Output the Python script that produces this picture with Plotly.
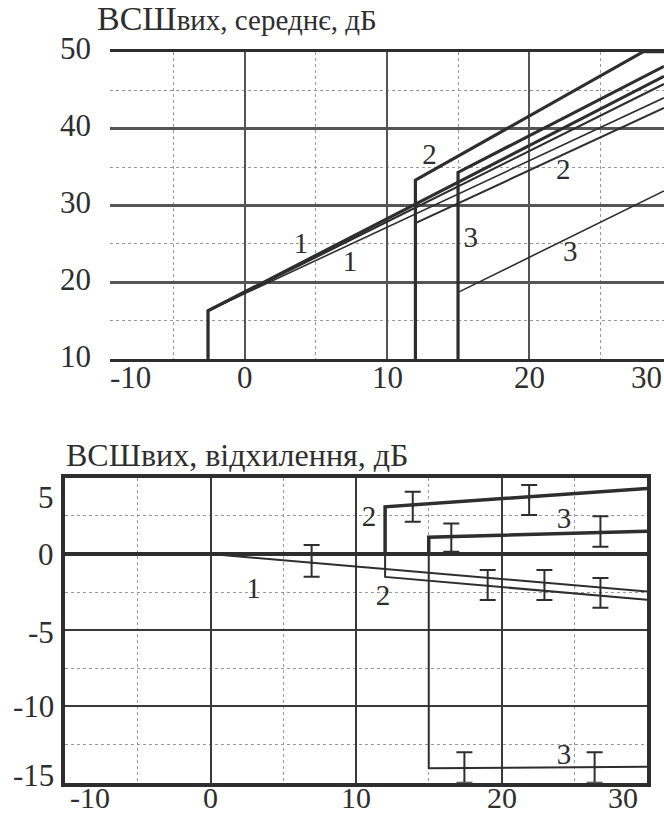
import plotly.graph_objects as go

FONT = "Liberation Serif"
INK = "#2e2e2e"
GRID = "#555555"
DOT = "#9a9a9a"

# ---------------- upper panel: mean output SNR, dB ----------------
c1_x = [-2.6, -2.6, 29.5]
c1a_y = [10, 16.3, 46.8]
c1b_y = [10, 16.3, 45.8]
c1c_y = [10, 16.3, 44.0]
c2a_x = [12, 12, 28.05, 29.5]
c2a_y = [10, 33.3, 50, 50]
c2b_x = [12, 29.5]
c2b_y = [27.7, 42.7]
c3a_x = [15, 15, 29.5]
c3a_y = [10, 34.3, 48.1]
c3b_x = [15, 29.5]
c3b_y = [18.7, 31.9]

top_lab_text = ["1", "1", "2", "2", "3", "3"]
top_lab_x = [3.95, 7.4, 13.0, 22.4, 15.9, 22.9]
top_lab_y = [24.7, 22.4, 36.3, 34.4, 25.5, 23.7]

top_xticks = [-10, 0, 10, 20, 30]
top_yticks = [10, 20, 30, 40, 50]

# ---------------- lower panel: output SNR deviation, dB ----------------
base_x = [-10, 30]
base_y = [0, 0]
d1_x = [0, 30]
d1_y = [0, -2.45]
d2u_x = [12, 12, 30]
d2u_y = [0, 3.1, 4.3]
d2l_x = [12, 12, 30]
d2l_y = [0, -1.5, -3.0]
d3u_x = [15, 15, 30]
d3u_y = [0, 1.1, 1.5]
d3l_x = [15, 15, 30]
d3l_y = [0, -14.05, -13.95]

err_x = [6.95, 13.9, 16.55, 19.05, 21.9, 22.95, 26.8, 26.8, 17.45, 26.4]
err_y = [-0.45, 3.1, 1.08, -2.03, 3.54, -2.03, 1.48, -2.55, -14.0, -14.0]
err_h = [1.04, 0.98, 0.93, 0.98, 0.98, 0.98, 1.0, 0.98, 1.0, 1.0]

bot_lab_text = ["1", "2", "2", "3", "3"]
bot_lab_x = [2.95, 10.9, 11.85, 24.3, 24.3]
bot_lab_y = [-2.4, 2.3, -2.9, 2.2, -13.3]

bot_xticks = [-10, 0, 10, 20, 30]
bot_yticks = [-15, -10, -5, 0, 5]

W, H = 664, 818
fig = go.Figure()


def line(x, y, width, xa="x", ya="y"):
    fig.add_trace(go.Scatter(x=x, y=y, mode="lines", xaxis=xa, yaxis=ya,
                             line=dict(color=INK, width=width), hoverinfo="skip",
                             showlegend=False))


# upper panel curves
line(c1_x, c1a_y, 3.2)
line(c1_x, c1b_y, 2.2)
line(c1_x, c1c_y, 1.6)
line(c2a_x, c2a_y, 3.2)
line(c2b_x, c2b_y, 2.0)
line(c3a_x, c3a_y, 3.2)
line(c3b_x, c3b_y, 1.6)
fig.add_trace(go.Scatter(x=top_lab_x, y=top_lab_y, text=top_lab_text, mode="text",
                         textfont=dict(family=FONT, size=29, color=INK),
                         xaxis="x", yaxis="y", hoverinfo="skip", showlegend=False))

# lower panel curves
line(base_x, base_y, 4.0, "x2", "y2")
line(d1_x, d1_y, 2.0, "x2", "y2")
line(d2u_x, d2u_y, 3.5, "x2", "y2")
line(d2l_x, d2l_y, 2.0, "x2", "y2")
line(d3u_x, d3u_y, 3.5, "x2", "y2")
line(d3l_x, d3l_y, 2.0, "x2", "y2")
fig.add_trace(go.Scatter(x=err_x, y=err_y, mode="markers", xaxis="x2", yaxis="y2",
                         marker=dict(size=2, color=INK),
                         error_y=dict(type="data", array=err_h, visible=True,
                                      color=INK, thickness=2, width=8),
                         hoverinfo="skip", showlegend=False))
fig.add_trace(go.Scatter(x=bot_lab_x, y=bot_lab_y, text=bot_lab_text, mode="text",
                         textfont=dict(family=FONT, size=29, color=INK),
                         xaxis="x2", yaxis="y2", hoverinfo="skip", showlegend=False))

top_xr = [-9.5, 29.5]
bot_xr = [-10, 30]


def minor(dt):
    return dict(dtick=dt, tick0=0, showgrid=True, gridcolor=DOT,
                griddash="dot", gridwidth=1.3)


fig.update_layout(
    width=W, height=H, margin=dict(l=0, r=0, t=0, b=0),
    paper_bgcolor="white", plot_bgcolor="white",
    font=dict(family=FONT, color=INK),
    xaxis=dict(domain=[110 / W, 1.0], range=top_xr, tick0=0, dtick=10,
               showgrid=True, gridcolor=GRID, gridwidth=2, minor=minor(5),
               showline=True, mirror=True, linecolor=INK, linewidth=3,
               zeroline=False, showticklabels=False, ticks="", anchor="y"),
    yaxis=dict(domain=[1 - 359.3 / H, 1 - 51.7 / H], range=[10, 50], tick0=0, dtick=10,
               showgrid=True, gridcolor=GRID, gridwidth=2.5, minor=minor(5),
               showline=False, zeroline=False, showticklabels=False, ticks="",
               anchor="x"),
    xaxis2=dict(domain=[65 / W, 647 / W], range=bot_xr, tick0=0, dtick=10,
                showgrid=True, gridcolor="#3a3a3a", gridwidth=1.5, minor=minor(5),
                showline=True, mirror=True, linecolor=INK, linewidth=3.5,
                zeroline=False, showticklabels=False, ticks="", anchor="y2"),
    yaxis2=dict(domain=[1 - 782.7 / H, 1 - 477.8 / H], range=[-15, 5], tick0=0, dtick=5,
                showgrid=True, gridcolor="#3a3a3a", gridwidth=2, minor=minor(2.5),
                showline=True, mirror=True, linecolor=INK, linewidth=3.5,
                zeroline=False, showticklabels=False, ticks="", anchor="x2"),
)

ann = []
TICKF = dict(family=FONT, size=31, color=INK)


def xlabels(ticks, rng, ref, ypix, edge_shift, size):
    lo, hi = rng
    for t in ticks:
        if t <= lo:
            x, anchor, sh = lo + 0.01, "left", edge_shift[0]
        elif t >= hi:
            x, anchor, sh = hi - 0.01, "right", edge_shift[1]
        else:
            x, anchor, sh = t, "center", 0
        ann.append(dict(x=x, y=1 - ypix / H, xref=ref, yref="paper", text=str(t),
                        xanchor=anchor, yanchor="middle", xshift=sh,
                        showarrow=False, font=dict(family=FONT, size=size, color=INK)))


xlabels(top_xticks, top_xr, "x", 377, (-2, 0), 31)
xlabels(bot_xticks, bot_xr, "x2", 797, (3, -7), 30)

for t in top_yticks:
    ann.append(dict(x=93 / W, y=t, xref="paper", yref="y", text=str(t),
                    xanchor="right", yanchor="middle", yshift=3,
                    showarrow=False, font=TICKF))

bot_yshift = {5: -20, 0: 0, -5: -2, -10: 0, -15: 7}
for t in bot_yticks:
    yv = min(max(t, -14.99), 4.99)
    ann.append(dict(x=56 / W, y=yv, xref="paper", yref="y2", text=str(t),
                    xanchor="right", yanchor="middle", yshift=bot_yshift[t],
                    showarrow=False, font=TICKF))

ann.append(dict(x=95 / W, y=1 - 19 / H, xref="paper", yref="paper",
                text="<span style='font-size:34px'>ВСШ</span>вих, середнє, дБ",
                xanchor="left", yanchor="middle", showarrow=False,
                font=dict(family=FONT, size=29, color=INK)))
ann.append(dict(x=64 / W, y=1 - 455 / H, xref="paper", yref="paper",
                text="ВСШвих, відхилення, дБ",
                xanchor="left", yanchor="middle", showarrow=False,
                font=dict(family=FONT, size=32, color=INK)))

fig.update_layout(annotations=ann)
fig.write_html("out.html")
